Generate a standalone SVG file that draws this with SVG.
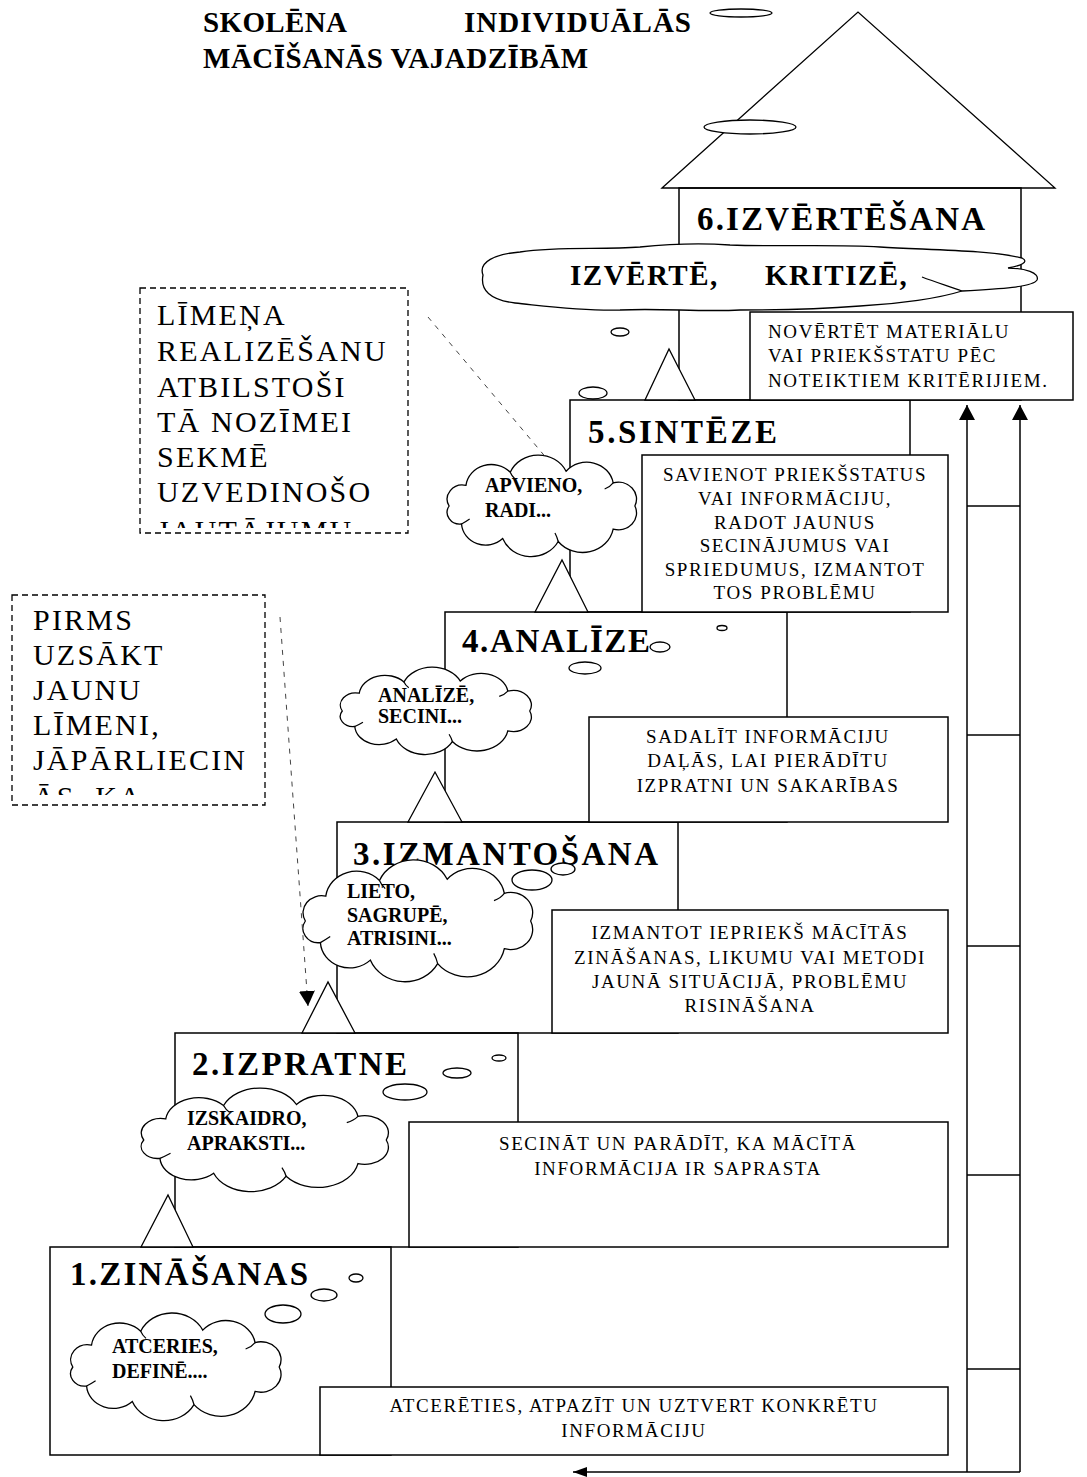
<svg xmlns="http://www.w3.org/2000/svg" width="1087" height="1477" viewBox="0 0 1087 1477">
<style>
.ln{fill:none;stroke:#000;stroke-width:1.5}
.bx{fill:#fff;stroke:#000;stroke-width:1.5}
.wf{fill:#fff;stroke:#000;stroke-width:1.3}
.note{fill:#fff;stroke:#000;stroke-width:1.3;stroke-dasharray:6 4}
.dash{fill:none;stroke:#444;stroke-width:1;stroke-dasharray:5 6}
.cshape{fill:#fff;stroke:#000;stroke-width:1.3;vector-effect:non-scaling-stroke}
.curl{fill:none;stroke:#000;stroke-width:1.2;vector-effect:non-scaling-stroke}
.head{font-family:"Liberation Serif","Times New Roman",serif;font-weight:bold;font-size:33px;fill:#000}
.title{font-family:"Liberation Serif","Times New Roman",serif;font-weight:bold;font-size:29px;fill:#000}
.desc{font-family:"Liberation Serif","Times New Roman",serif;font-size:19px;letter-spacing:1.6px;fill:#000}
.mid{text-anchor:middle}
.cl{font-family:"Liberation Serif","Times New Roman",serif;font-weight:bold;font-size:20px;fill:#000}
.cl6{font-family:"Liberation Serif","Times New Roman",serif;font-weight:bold;font-size:29px;letter-spacing:1.5px;fill:#000}
.nt{font-family:"Liberation Serif","Times New Roman",serif;font-size:30px;letter-spacing:2.2px;fill:#000}
</style>
<defs>
<path id="cloud" class="cshape" d="M-86,0 A14.2,14.2 0 0 1 -70.4,-20.7 A23.7,23.7 0 0 1 -29.4,-33.8 A28.4,28.4 0 0 1 22.3,-34.8 A24.8,24.8 0 0 1 65.9,-23.1 A16.8,16.8 0 0 1 86,0 A16.8,16.8 0 0 1 65.9,23.1 A28.8,28.8 0 0 1 15,35.5 A28.3,28.3 0 0 1 -36.4,32.6 A22.4,22.4 0 0 1 -74.5,18 A11.8,11.8 0 0 1 -86,0 Z"/>
<path id="curls" class="curl" d="M58,-17 Q63,-19 65.9,-23.1 M12,27 Q14,31 15,35.5 M-67,13 Q-71,16 -74.5,18 M-25,-27 Q-28,-30 -29.4,-33.8"/>
<marker id="ah" markerUnits="userSpaceOnUse" markerWidth="15" markerHeight="16" viewBox="0 0 15 16" refX="15" refY="8" orient="auto"><path d="M0,0 L15,8 L0,16 Z" fill="#000"/></marker>
<marker id="ahs" markerUnits="userSpaceOnUse" markerWidth="14" markerHeight="10" viewBox="0 0 14 10" refX="14" refY="5" orient="auto"><path d="M0,0 L14,5 L0,10 Z" fill="#000"/></marker>
<clipPath id="clipN1"><rect x="140" y="288" width="268" height="240"/></clipPath>
<clipPath id="clipN2"><rect x="12" y="595" width="253" height="200"/></clipPath>
</defs>

<g id="title">
<text class="title" x="203" y="32" textLength="144">SKOLĒNA</text>
<text class="title" x="464" y="32" textLength="227">INDIVIDUĀLĀS</text>
<text class="title" x="203" y="68" textLength="385">MĀCĪŠANĀS VAJADZĪBĀM</text>
<ellipse class="wf" cx="741" cy="13" rx="31" ry="4"/>
</g>

<g id="roof">
<polygon class="wf" points="662,188 858,12 1055,188"/>
<ellipse class="wf" cx="750" cy="127" rx="46" ry="7"/>
</g>

<g id="level6"><rect class="ln" x="679" y="188" width="342" height="212"/><text class="head" x="697" y="230" textLength="288">6.IZVĒRTĒŠANA</text></g>
<g id="level5"><rect class="ln" x="570" y="400" width="340" height="212"/><text class="head" x="588" y="443" textLength="189">5.SINTĒZE</text></g>
<g id="level4"><rect class="ln" x="445" y="612" width="342" height="210"/><text class="head" x="462" y="652" textLength="188">4.ANALĪZE</text></g>
<g id="level3"><rect class="ln" x="337" y="822" width="341" height="211"/><text class="head" x="353" y="865" textLength="305">3.IZMANTOŠANA</text></g>
<g id="level2"><rect class="ln" x="175" y="1033" width="343" height="214"/><text class="head" x="192" y="1075" textLength="215">2.IZPRATNE</text></g>
<g id="level1"><rect class="ln" x="50" y="1247" width="341" height="208"/><text class="head" x="70" y="1285" textLength="238">1.ZINĀŠANAS</text></g>

<g id="desc6"><rect class="bx" x="750" y="312" width="323" height="88"/>
<text class="desc" x="768" y="338">NOVĒRTĒT MATERIĀLU</text>
<text class="desc" x="768" y="362">VAI PRIEKŠSTATU PĒC</text>
<text class="desc" x="768" y="387">NOTEIKTIEM KRITĒRIJIEM.</text></g>
<g id="desc5"><rect class="bx" x="642" y="455" width="306" height="157"/>
<text class="desc mid" x="795" y="481">SAVIENOT PRIEKŠSTATUS</text>
<text class="desc mid" x="795" y="505">VAI INFORMĀCIJU,</text>
<text class="desc mid" x="795" y="529">RADOT JAUNUS</text>
<text class="desc mid" x="795" y="552">SECINĀJUMUS VAI</text>
<text class="desc mid" x="795" y="576">SPRIEDUMUS, IZMANTOT</text>
<text class="desc mid" x="795" y="599">TOS PROBLĒMU</text></g>
<g id="desc4"><rect class="bx" x="589" y="717" width="359" height="105"/>
<text class="desc mid" x="768" y="743">SADALĪT INFORMĀCIJU</text>
<text class="desc mid" x="768" y="767">DAĻĀS, LAI PIERĀDĪTU</text>
<text class="desc mid" x="768" y="792">IZPRATNI UN SAKARĪBAS</text></g>
<g id="desc3"><rect class="bx" x="552" y="910" width="396" height="123"/>
<text class="desc mid" x="750" y="939">IZMANTOT IEPRIEKŠ MĀCĪTĀS</text>
<text class="desc mid" x="750" y="964">ZINĀŠANAS, LIKUMU VAI METODI</text>
<text class="desc mid" x="750" y="988">JAUNĀ SITUĀCIJĀ, PROBLĒMU</text>
<text class="desc mid" x="750" y="1012">RISINĀŠANA</text></g>
<g id="desc2"><rect class="bx" x="409" y="1122" width="539" height="125"/>
<text class="desc mid" x="678" y="1150">SECINĀT UN PARĀDĪT, KA MĀCĪTĀ</text>
<text class="desc mid" x="678" y="1175">INFORMĀCIJA IR SAPRASTA</text></g>
<g id="desc1"><rect class="bx" x="320" y="1387" width="628" height="68"/>
<text class="desc mid" x="634" y="1412">ATCERĒTIES, ATPAZĪT UN UZTVERT KONKRĒTU</text>
<text class="desc mid" x="634" y="1437">INFORMĀCIJU</text></g>

<g id="cloud6">
<path class="wf" d="M483,275 C478,262 495,254 520,252 C560,246 600,250 640,247 C670,244 700,243 730,245 C780,247 830,244 880,247 C930,250 990,250 1022,258 C1030,262 1020,266 1008,268 C1025,268 1040,273 1037,280 C1033,287 1000,289 962,291 C940,298 900,304 860,306 C820,309 780,310 740,310 C700,312 660,308 620,310 C580,311 545,306 515,303 C490,300 480,290 483,275 Z"/>
<path class="ln" style="stroke-width:1.2" d="M922,277 C935,282 948,286 962,291"/>
<text class="cl6" x="570" y="285">IZVĒRTĒ,</text>
<text class="cl6" x="765" y="285">KRITIZĒ,</text>
<ellipse class="wf" cx="620" cy="332" rx="9" ry="4"/>
<ellipse class="wf" cx="593" cy="393" rx="14" ry="6"/>
</g>

<g id="cloud5">
<use href="#cloud" transform="translate(542,506) scale(1.08,1.0)"/>
<use href="#curls" transform="translate(542,506) scale(1.08,1.0)"/>
<text class="cl" x="485" y="492">APVIENO,</text>
<text class="cl" x="485" y="517">RADI...</text>
</g>

<g id="cloud4">
<use href="#cloud" transform="translate(436,711) scale(1.09,0.86)"/>
<use href="#curls" transform="translate(436,711) scale(1.09,0.86)"/>
<text class="cl" x="378" y="702">ANALĪZĒ,</text>
<text class="cl" x="378" y="723">SECINI...</text>
<ellipse class="wf" cx="660" cy="647" rx="10" ry="5"/>
<ellipse class="wf" cx="585" cy="668" rx="16" ry="6"/>
<ellipse class="wf" cx="722" cy="628" rx="5" ry="2.5"/>
</g>

<g id="cloud3">
<use href="#cloud" transform="translate(418,921) scale(1.31,1.2)"/>
<use href="#curls" transform="translate(418,921) scale(1.31,1.2)"/>
<text class="cl" x="347" y="898">LIETO,</text>
<text class="cl" x="347" y="922">SAGRUPĒ,</text>
<text class="cl" x="347" y="945">ATRISINI...</text>
<ellipse class="wf" cx="532" cy="880" rx="20" ry="10"/>
<ellipse class="wf" cx="563" cy="869" rx="12" ry="6"/>
</g>

<g id="cloud2">
<use href="#cloud" transform="translate(265,1140) scale(1.41,1.02)"/>
<use href="#curls" transform="translate(265,1140) scale(1.41,1.02)"/>
<text class="cl" x="187" y="1125">IZSKAIDRO,</text>
<text class="cl" x="187" y="1150">APRAKSTI...</text>
<ellipse class="wf" cx="405" cy="1092" rx="22" ry="8"/>
<ellipse class="wf" cx="457" cy="1073" rx="14" ry="5"/>
<ellipse class="wf" cx="499" cy="1058" rx="7" ry="3"/>
</g>

<g id="cloud1">
<use href="#cloud" transform="translate(176,1367) scale(1.2,1.06)"/>
<use href="#curls" transform="translate(176,1367) scale(1.2,1.06)"/>
<text class="cl" x="112" y="1353">ATCERIES,</text>
<text class="cl" x="112" y="1378">DEFINĒ....</text>
<ellipse class="wf" cx="283" cy="1314" rx="18" ry="9"/>
<ellipse class="wf" cx="324" cy="1295" rx="13" ry="6"/>
<ellipse class="wf" cx="356" cy="1278" rx="7" ry="4"/>
</g>

<g id="note1">
<rect class="note" x="140" y="288" width="268" height="245"/>
<g clip-path="url(#clipN1)">
<text class="nt" x="157" y="325">LĪMEŅA</text>
<text class="nt" x="157" y="361">REALIZĒŠANU</text>
<text class="nt" x="157" y="397">ATBILSTOŠI</text>
<text class="nt" x="157" y="432">TĀ NOZĪMEI</text>
<text class="nt" x="157" y="467">SEKMĒ</text>
<text class="nt" x="157" y="502">UZVEDINOŠO</text>
<text class="nt" x="157" y="541">JAUTĀJUMU</text>
</g>
</g>

<g id="note2">
<rect class="note" x="12" y="595" width="253" height="210"/>
<g clip-path="url(#clipN2)">
<text class="nt" x="33" y="630">PIRMS</text>
<text class="nt" x="33" y="665">UZSĀKT</text>
<text class="nt" x="33" y="700">JAUNU</text>
<text class="nt" x="33" y="735">LĪMENI,</text>
<text class="nt" x="33" y="770">JĀPĀRLIECIN</text>
<text class="nt" x="33" y="807">ĀS, KA</text>
</g>
</g>

<g id="connectors">
<polygon class="wf" points="645,400 669,349 695,400"/>
<polygon class="wf" points="535,612 562,560 588,612"/>
<polygon class="wf" points="408,822 435,772 462,822"/>
<polygon class="wf" points="302,1033 328,982 355,1033"/>
<polygon class="wf" points="141,1247 168,1195 193,1247"/>
<line class="ln" x1="967" y1="1472" x2="967" y2="405" marker-end="url(#ah)"/>
<line class="ln" x1="1020" y1="1472" x2="1020" y2="405" marker-end="url(#ah)"/>
<line class="ln" x1="967" y1="506" x2="1020" y2="506"/>
<line class="ln" x1="967" y1="735" x2="1020" y2="735"/>
<line class="ln" x1="967" y1="946" x2="1020" y2="946"/>
<line class="ln" x1="967" y1="1175" x2="1020" y2="1175"/>
<line class="ln" x1="967" y1="1369" x2="1020" y2="1369"/>
<line class="ln" x1="1020" y1="1472" x2="573" y2="1472" marker-end="url(#ahs)"/>
<line class="dash" x1="428" y1="317" x2="548" y2="460"/>
<line class="dash" x1="280" y1="617" x2="308" y2="1006" marker-end="url(#ah)"/>
</g>
</svg>
